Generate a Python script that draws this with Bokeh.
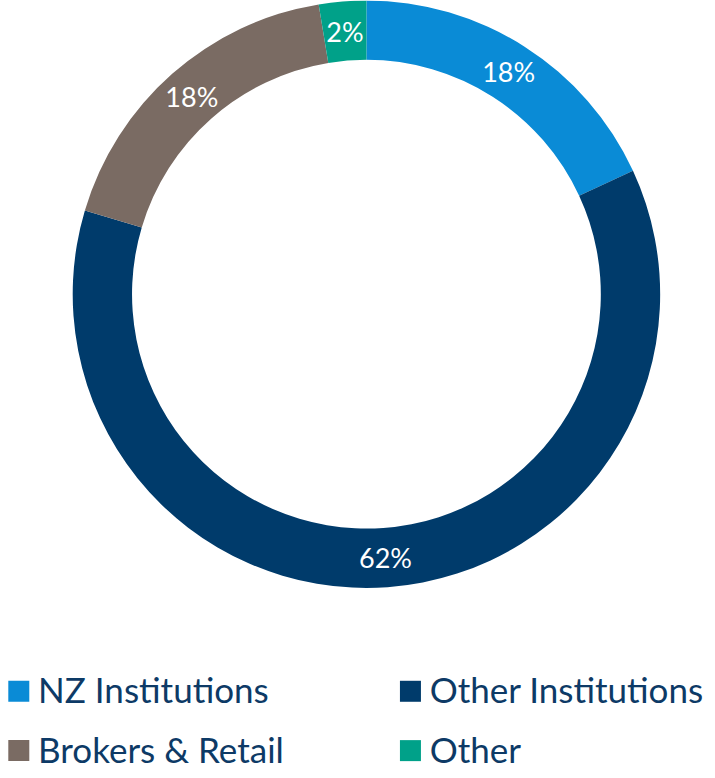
import math
from bokeh.plotting import figure
from bokeh.models import Range1d, ColumnDataSource
from bokeh.core.properties import value
from bokeh.embed import file_html
from bokeh.resources import INLINE

# ---- data ----
categories = ["NZ Institutions", "Other Institutions", "Brokers & Retail", "Other"]
shares = [18.1, 61.5, 17.8, 2.6]
share_labels = ["18%", "62%", "18%", "2%"]
colors = ["#0a8bd6", "#003b6b", "#7a6b63", "#00a189"]

W, H = 707, 770
S = 0.989   # layout scale
DY = 3      # shift up (px)
p = figure(width=W, height=H, output_backend="svg", toolbar_location=None,
           x_range=Range1d(0, W), y_range=Range1d(0, H),
           min_border=0, outline_line_color=None)
p.axis.visible = False
p.grid.visible = False
p.background_fill_color = "white"
p.border_fill_color = "white"

def sx(x):
    return x * S

def sy(y):
    return H - y * S + DY

cx, cy = sx(370), sy(300)
r_out, r_in = 297 * S, 237 * S

total = sum(shares)
starts, ends, lx, ly = [], [], [], []
cum = 0.0
for s in shares:
    a0 = math.pi / 2 - 2 * math.pi * cum / total
    cum += s
    a1 = math.pi / 2 - 2 * math.pi * cum / total
    starts.append(a0)
    ends.append(a1)
    mid = (a0 + a1) / 2
    rm = (r_out + r_in) / 2
    lx.append(cx + rm * math.cos(mid))
    ly.append(cy + rm * math.sin(mid))

src = ColumnDataSource(dict(start=starts, end=ends, color=colors,
                            lx=lx, ly=ly, lab=share_labels))
p.annular_wedge(x=cx, y=cy, inner_radius=r_in, outer_radius=r_out,
                start_angle="start", end_angle="end", direction="clock",
                fill_color="color", line_color=None, source=src)
p.text(x="lx", y="ly", text="lab", source=src, text_color="white",
       text_font=value("Lato"), text_font_size="27px",
       text_align="center", text_baseline="middle")

# ---- legend ----
col_x = [8, 404]
row_y = [701.5, 761.5]
leg_x, leg_y, sq_x, sq_y = [], [], [], []
for i, c in enumerate(categories):
    col, row = i % 2, i // 2
    sq_x.append(sx(col_x[col] + 10.5))
    sq_y.append(sy(row_y[row]))
    leg_x.append(sx(col_x[col] + 30))
    leg_y.append(sy(row_y[row] - 2))
lsrc = ColumnDataSource(dict(sx=sq_x, sy=sq_y, lx=leg_x, ly=leg_y,
                             color=colors, name=categories))
p.scatter(x="sx", y="sy", marker="square", size=21, fill_color="color",
          line_color=None, source=lsrc)
p.text(x="lx", y="ly", text="name", source=lsrc, text_color="#0d3a66",
       text_font=value("Lato"), text_font_size="35px",
       text_align="left", text_baseline="middle")

open("out.html", "w").write(file_html(p, INLINE))
